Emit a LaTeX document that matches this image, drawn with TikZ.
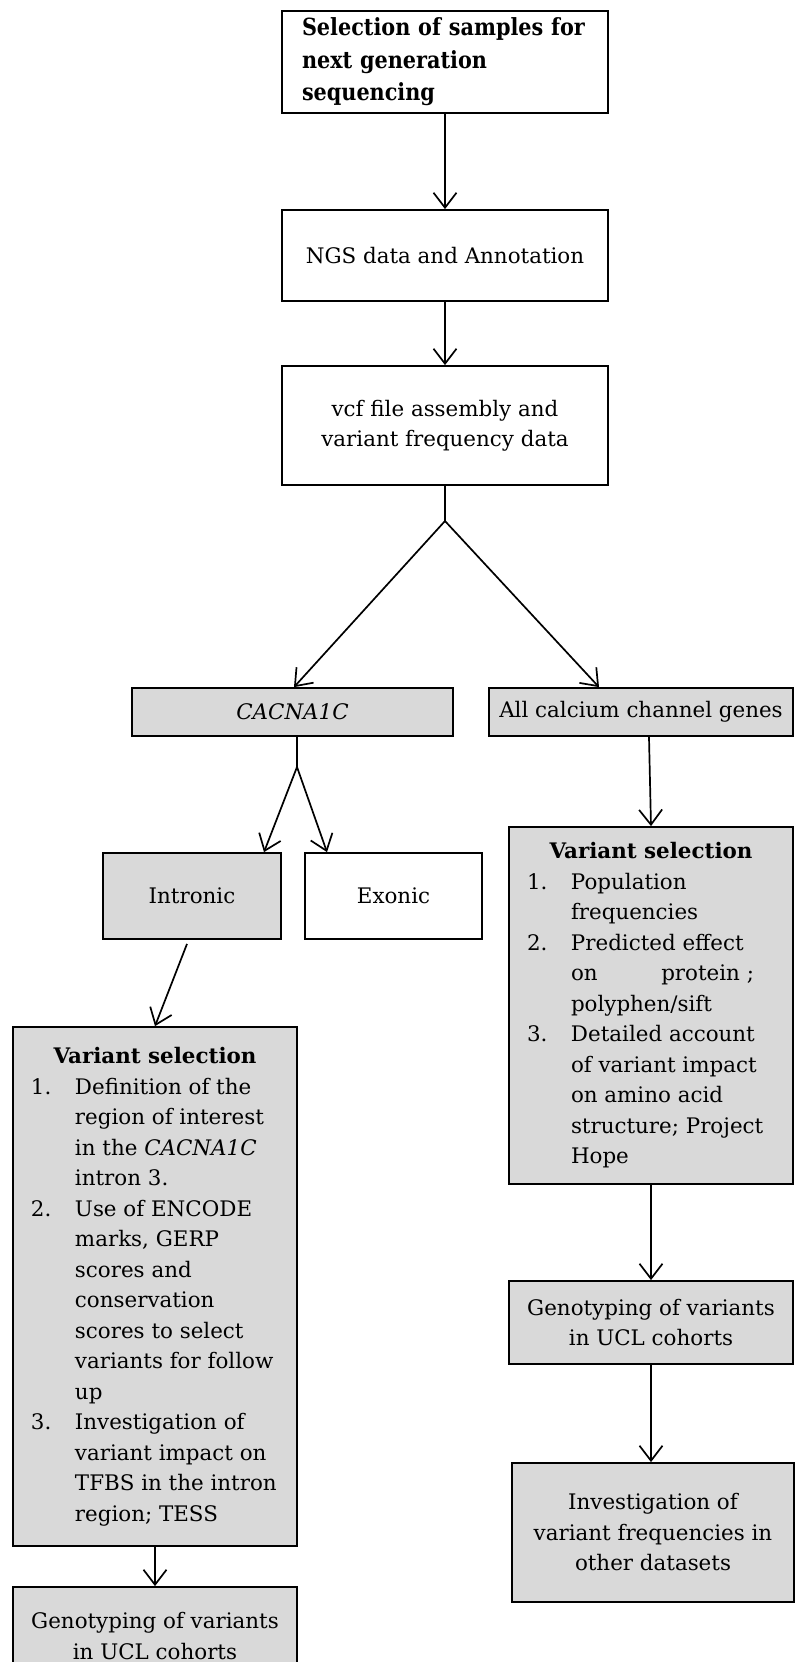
\documentclass[tikz,border=0pt]{standalone}
\usepackage{fontspec}
\setmainfont{DejaVu Serif}
\newfontfamily\topfont[FakeStretch=0.88]{DejaVu Serif}
\usetikzlibrary{arrows.meta}
\definecolor{boxgray}{HTML}{D9D9D9}
\tikzset{
  box/.style={draw=black, line width=0.9pt, fill=white, inner sep=0pt, align=center,
    font=\fontsize{10.7}{15.25}\selectfont},
  graybox/.style={box, fill=boxgray},
  conn/.style={line width=0.85pt, draw=black},
  arr/.style={conn, -{Straight Barb[length=7.5pt,width=11.5pt,line width=0.85pt]}},
}
\newcommand{\num}[1]{\makebox[22pt][l]{#1}}
\newcommand{\ind}{\hspace*{22pt}}
\begin{document}
\begin{tikzpicture}[x=0.5pt,y=-0.5pt]
\useasboundingbox (0,0) rectangle (798,1662);
% top chain
\node[box, minimum width=163pt, minimum height=51pt, align=left, text width=143pt, inner xsep=10pt,
      font=\fontsize{11.8}{16.3}\selectfont\topfont\bfseries] (b1) at (445,62)
  {\raisebox{0pt}{Selection of samples for}\\next generation\\sequencing};
\node[box, minimum width=163pt, minimum height=45.5pt] (b2) at (445,255.5)
  {NGS data and Annotation};
\node[box, minimum width=163pt, minimum height=59.5pt] (b3) at (445,425.5)
  {vcf file assembly and\\variant frequency data};
\coordinate (fork) at (445,521);
% second level
\node[graybox, minimum width=160.5pt, minimum height=24pt] (cac) at (292.5,712)
  {\itshape CACNA1C};
\node[graybox, minimum width=152pt, minimum height=24pt] (all) at (641,712)
  {All calcium channel genes};
\coordinate (fork2) at (297,767);
% left branch
\node[graybox, minimum width=89pt, minimum height=43pt] (intr) at (192,896) {Intronic};
\node[box, minimum width=88.5pt, minimum height=43pt] (exon) at (393.5,896) {Exonic};
\node[graybox, minimum width=142pt, minimum height=259.5pt, align=left] (lvs) at (155,1286.5)
  {\makebox[124pt][c]{\bfseries Variant selection}\\
   \num{1.}Definition of the\\
   \ind region of interest\\
   \ind in the \textit{CACNA1C}\\
   \ind intron 3.\\
   \num{2.}Use of ENCODE\\
   \ind marks, GERP\\
   \ind scores and\\
   \ind conservation\\
   \ind scores to select\\
   \ind variants for follow\\
   \ind up\\
   \num{3.}Investigation of\\
   \ind variant impact on\\
   \ind TFBS in the intron\\
   \ind region; TESS};
\node[graybox, minimum width=142pt, minimum height=49pt] (lgen) at (155,1636)
  {Genotyping of variants\\in UCL cohorts};
% right branch
\node[graybox, minimum width=142pt, minimum height=178.5pt, align=left] (rvs) at (651,1005.5)
  {\makebox[124pt][c]{\bfseries Variant selection}\\
   \num{1.}Population\\
   \ind frequencies\\
   \num{2.}Predicted effect\\
   \ind\hbox to 91.5pt{on\hfill protein ;}\\
   \ind polyphen/sift\\
   \num{3.}Detailed account\\
   \ind of variant impact\\
   \ind on amino acid\\
   \ind structure; Project\\
   \ind Hope};
\node[graybox, minimum width=142pt, minimum height=41.5pt] (rgen) at (651,1322.5)
  {Genotyping of variants\\in UCL cohorts};
\node[graybox, minimum width=141pt, minimum height=69.5pt] (rinv) at (653,1532.5)
  {Investigation of\\variant frequencies in\\other datasets};
% connectors
\draw[arr] (b1.south) -- (b2.north);
\draw[arr] (b2.south) -- (b3.north);
\draw[conn] (b3.south) -- (fork);
\draw[arr] (fork) -- (cac.north -| 294,0);
\draw[arr] (fork) -- (all.north -| 599,0);
\draw[conn] (cac.south -| fork2) -- (fork2);
\draw[arr] (fork2) -- (intr.north -| 264,0);
\draw[arr] (fork2) -- (exon.north -| 327,0);
\draw[arr] ([xshift=-2.5pt,yshift=-2pt]intr.south) -- (lvs.north);
\draw[arr] (lvs.south) -- (lgen.north);
\draw[arr] ([xshift=4pt]all.south) -- ([xshift=0pt]rvs.north);
\draw[arr] (rvs.south) -- (rgen.north);
\draw[arr] (rgen.south) -- (rinv.north -| rgen.south);
\end{tikzpicture}
\end{document}
